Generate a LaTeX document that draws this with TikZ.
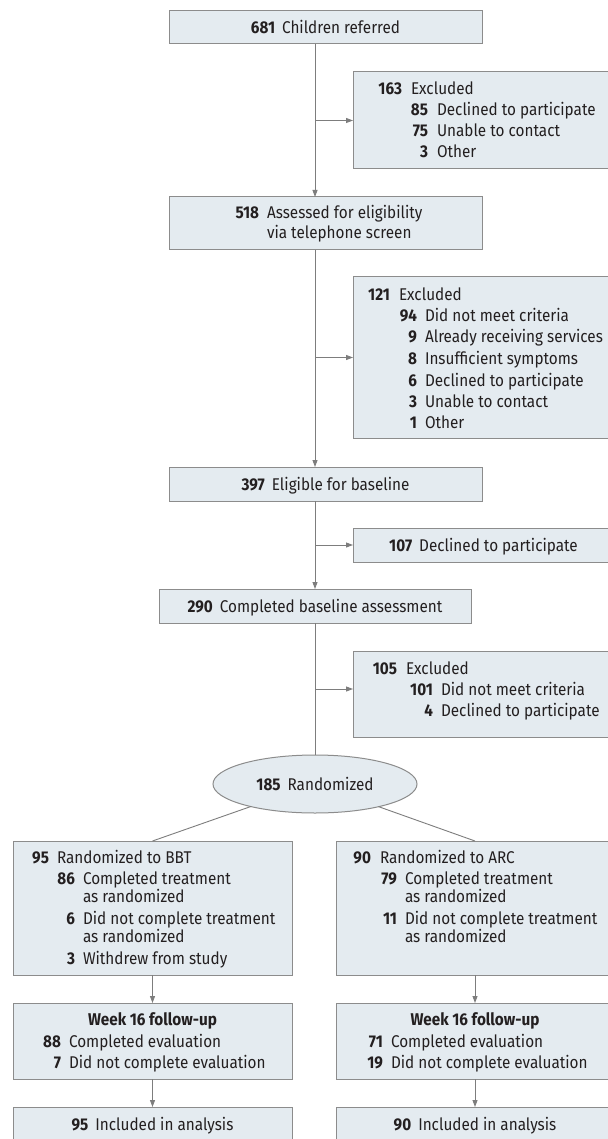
\documentclass[tikz,border=0pt]{standalone}
\usepackage{fontspec}
\setmainfont[FakeStretch=0.9]{Fira Sans}
\usetikzlibrary{arrows.meta,shapes.geometric,calc}
\definecolor{boxfill}{RGB}{228,235,240}
\definecolor{boxline}{RGB}{140,140,140}
\definecolor{conn}{RGB}{125,125,125}
\definecolor{txt}{RGB}{35,31,32}
\newcommand\nl[6]{%
  \node[numst] (#1n) at (#2,#4) {\textbf{#5}};
  \node[tx] (#1l) at (#3,#4) {#6};}
\newcommand\cl[4]{\node[tx] (#1) at (#2,#3) {#4};}
\begin{document}
\begin{tikzpicture}[x=1pt,y=-1pt,
  box/.style={draw=boxline,fill=boxfill,line width=1pt,rectangle,anchor=north west,inner sep=0pt,outer sep=0pt},
  tx/.style={anchor=base west,inner sep=0pt,outer sep=0pt,text=txt,font=\fontsize{17}{20}\selectfont},
  numst/.style={anchor=base east,inner sep=0pt,outer sep=0pt,text=txt,font=\fontsize{17}{20}\selectfont},
  ctx/.style={anchor=base,inner sep=0pt,outer sep=0pt,text=txt,font=\fontsize{17}{20}\selectfont},
  conline/.style={draw=conn,line width=0.9pt},
  arr/.style={conline,-{Triangle[length=7pt,width=5pt]}},
]
\useasboundingbox (0,0) rectangle (607,1139);
\fill[white] (0,0) rectangle (607,1139);
\coordinate (m) at (315,0);
% boxes
\node[box,minimum width=313pt,minimum height=33pt] (b1) at (169,11) {};
\node[box,minimum width=261pt,minimum height=97pt] (e1) at (353,72) {};
\node[box,minimum width=313pt,minimum height=53pt] (b2) at (169,197) {};
\node[box,minimum width=261pt,minimum height=161pt] (e2) at (353,277) {};
\node[box,minimum width=313pt,minimum height=34pt] (b3) at (169,467) {};
\node[box,minimum width=261pt,minimum height=34pt] (e3) at (353,528) {};
\node[box,minimum width=312pt,minimum height=34pt] (b4) at (159,589) {};
\node[box,minimum width=261pt,minimum height=86pt] (e4) at (353,651) {};
\node[ellipse,draw=boxline,fill=boxfill,line width=1pt,minimum width=204pt,minimum height=58pt,inner sep=0pt,outer sep=0pt] (ell) at (315,784) {};
\node[box,minimum width=279pt,minimum height=134pt] (L1) at (13,841) {};
\node[box,minimum width=278pt,minimum height=134pt] (R1) at (336,841) {};
\node[box,minimum width=279pt,minimum height=76pt] (L2) at (13,1003) {};
\node[box,minimum width=278pt,minimum height=76pt] (R2) at (336,1003) {};
\node[box,minimum width=279pt,minimum height=36pt] (L3) at (13,1107) {};
\node[box,minimum width=278pt,minimum height=36pt] (R3) at (336,1107) {};
% texts
\node[ctx] (t1) at (325.5,34) {\textbf{681}\hspace{7pt}Children referred};
\nl{a1}{402}{411}{95}{163}{Excluded}
\nl{a2}{428}{437}{116}{85}{Declined to participate}
\nl{a3}{428}{437}{137}{75}{Unable to contact}
\nl{a4}{428}{437}{158}{3}{Other}
\nl{c1}{259}{267}{219}{518}{Assessed for eligibility}
\cl{c2}{267}{239}{via telephone screen}
\nl{d1}{390}{399}{300}{121}{Excluded}
\nl{d2}{417}{425}{321}{94}{Did not meet criteria}
\nl{d3}{417}{425}{342}{9}{Already receiving services}
\nl{d4}{417}{425}{364}{8}{Insufficient symptoms}
\nl{d5}{417}{425}{386}{6}{Declined to participate}
\nl{d6}{417}{425}{407}{3}{Unable to contact}
\nl{d7}{417}{425}{428}{1}{Other}
\node[ctx] (t3) at (325.5,490) {\textbf{397}\hspace{7pt}Eligible for baseline};
\node[ctx] (t4) at (483.5,551) {\textbf{107}\hspace{7pt}Declined to participate};
\node[ctx] (t5) at (315,612) {\textbf{290}\hspace{7pt}Completed baseline assessment};
\nl{f1}{397}{406}{674}{105}{Excluded}
\nl{f2}{433}{441}{695}{101}{Did not meet criteria}
\nl{f3}{433}{441}{716}{4}{Declined to participate}
\node[ctx] (t6) at (315,790) {\textbf{185}\hspace{7pt}Randomized};
\nl{g1}{49}{57}{863}{95}{Randomized to BBT}
\nl{g2}{75}{83}{884}{86}{Completed treatment}
\cl{g3}{83}{902}{as randomized}
\nl{g4}{75}{83}{924}{6}{Did not complete treatment}
\cl{g5}{83}{942}{as randomized}
\nl{g6}{75}{83}{964}{3}{Withdrew from study}
\nl{h1}{371}{380}{863}{90}{Randomized to ARC}
\nl{h2}{397}{405}{884}{79}{Completed treatment}
\cl{h3}{405}{902}{as randomized}
\nl{h4}{397}{405}{924}{11}{Did not complete treatment}
\cl{h5}{405}{942}{as randomized}
\node[ctx] (i0) at (152.5,1025) {\textbf{Week 16 follow-up}};
\nl{i1}{61}{69}{1047}{88}{Completed evaluation}
\nl{i2}{61}{69}{1068}{7}{Did not complete evaluation}
\node[ctx] (j0) at (475,1025) {\textbf{Week 16 follow-up}};
\nl{j1}{383}{391}{1047}{71}{Completed evaluation}
\nl{j2}{383}{391}{1068}{19}{Did not complete evaluation}
\node[ctx] (k1) at (152.5,1130) {\textbf{95}\hspace{7pt}Included in analysis};
\node[ctx] (k2) at (475,1130) {\textbf{90}\hspace{7pt}Included in analysis};
% connectors
\coordinate (e4a) at ($(e4.north west)+(0,38)$);
\draw[arr] (b1.south -| m) -- (b2.north -| m);
\draw[arr] (m |- e1.west) -- (e1.west);
\draw[arr] (b2.south -| m) -- (b3.north -| m);
\draw[arr] (m |- e2.west) -- (e2.west);
\draw[arr] (b3.south -| m) -- (b4.north);
\draw[arr] (m |- e3.west) -- (e3.west);
\draw[conline] (b4.south) -- (ell.north);
\draw[arr] (m |- e4a) -- (e4a);
\draw[conline] (ell) -- (L1.north);
\draw[conline] (ell) -- (R1.north);
\draw[arr] (L1.south) -- (L2.north);
\draw[arr] (L2.south) -- (L3.north);
\draw[arr] (R1.south) -- (R2.north);
\draw[arr] (R2.south) -- (R3.north);
\end{tikzpicture}
\end{document}
